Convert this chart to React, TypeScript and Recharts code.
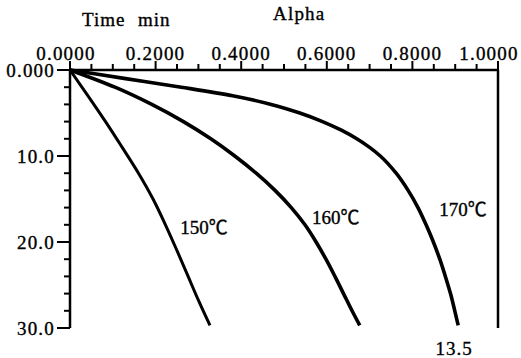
import React from 'react';
import { LineChart, Line, XAxis, YAxis, ReferenceLine, ReferenceDot } from 'recharts';

// Tick values
const alphaTicks = [0, 0.05, 0.1, 0.15, 0.2, 0.25, 0.3, 0.35, 0.4, 0.45, 0.5, 0.55, 0.6, 0.65, 0.7, 0.75, 0.8, 0.85, 0.9, 0.95, 1.0];
const alphaLabelTicks = [0, 0.2, 0.4, 0.6, 0.8, 1.0];
const timeTicks = [0, 2, 4, 6, 8, 10, 12, 14, 16, 18, 20, 22, 24, 26, 28, 30];
const timeLabelTicks = [0, 10, 20, 30];
const timeTickLabels = ['0.000', '10.0', '20.0', '30.0'];

// Series: time (min) and conversion alpha
const time150 = [0, 3, 6, 9, 12, 15, 18, 21, 24, 27, 29.7];
const alpha150 = [0, 0.042, 0.083, 0.122, 0.16, 0.194, 0.223, 0.25, 0.276, 0.302, 0.327];

const time160 = [0, 2, 4, 6, 8, 10, 12, 14, 16, 18, 20, 22, 24, 26, 28, 29.7];
const alpha160 = [0, 0.105, 0.191, 0.265, 0.329, 0.385, 0.435, 0.479, 0.517, 0.549, 0.575, 0.598, 0.619, 0.639, 0.659, 0.677];

const time170 = [0, 1, 2, 3, 4, 5, 6, 7, 8, 9, 10, 12, 14, 16, 18, 20, 22, 24, 26, 28, 29.7];
const alpha170 = [0, 0.13, 0.26, 0.38, 0.47, 0.537, 0.59, 0.634, 0.67, 0.7, 0.725, 0.762, 0.79, 0.813, 0.832, 0.849, 0.864, 0.877, 0.889, 0.899, 0.907];

const seriesLabels = ['150℃', '160℃', '170℃'];
const labelAlpha = [0.313, 0.621, 0.918];
const labelTime = [18.3, 17.15, 16.2];
const endNote = '13.5';
const xTitle = 'Alpha';
const yTitleA = 'Time';
const yTitleB = 'min';

const toRows = (ts: number[], as: number[]) => ts.map((t, i) => ({ t, a: as[i] }));
const data150 = toRows(time150, alpha150);
const data160 = toRows(time160, alpha160);
const data170 = toRows(time170, alpha170);

const FONT = "'Liberation Serif', 'Times New Roman', 'Noto Sans CJK SC', serif";
const TEXT_STROKE = 0.35;

const isAlphaLabel = (v: number) => alphaLabelTicks.some((l) => Math.abs(l - v) < 1e-6);

const XTick = (props: any) => {
  const { x, y, payload } = props;
  const v = payload.value as number;
  const major = isAlphaLabel(v);
  let dx = 0;
  if (Math.abs(v) < 1e-6) dx = -4;
  if (Math.abs(v - 1) < 1e-6) dx = -9;
  return (
    <g>
      <line x1={x} y1={y} x2={x} y2={y - (major ? 9 : 6)} stroke="#000" strokeWidth={2} />
      {major && (
        <text x={x + dx} y={y - 10} textAnchor="middle" fontFamily={FONT} fontSize={19} letterSpacing={1.2} fill="#000" stroke="#000" strokeWidth={TEXT_STROKE}>
          {v.toFixed(4)}
        </text>
      )}
    </g>
  );
};

const YTick = (props: any) => {
  const { x, y, payload } = props;
  const v = payload.value as number;
  const idx = timeLabelTicks.indexOf(v);
  const major = idx >= 0;
  return (
    <g>
      <line x1={x} y1={y} x2={x - (major ? 13 : 6)} y2={y} stroke="#000" strokeWidth={2} />
      {major && (
        <text x={x - 15} y={y + 7} textAnchor="end" fontFamily={FONT} fontSize={19} letterSpacing={1.2} fill="#000" stroke="#000" strokeWidth={TEXT_STROKE}>
          {timeTickLabels[idx]}
        </text>
      )}
    </g>
  );
};

const labelStyle = { fill: '#000', fontSize: 19, fontFamily: FONT, stroke: '#000', strokeWidth: TEXT_STROKE };

export default function App() {
  return (
    <div style={{ position: 'absolute', left: 0, top: 0, width: 521, height: 358, background: '#fff' }}>
      <LineChart
        width={521}
        height={358}
        layout="vertical"
        margin={{ top: 40, right: 23, bottom: 30, left: 10 }}
      >
        <XAxis
          type="number"
          dataKey="a"
          orientation="top"
          domain={[0, 1]}
          ticks={alphaTicks}
          interval={0}
          height={30}
          tickSize={0}
          tickMargin={0}
          tickLine={false}
          axisLine={{ stroke: '#000', strokeWidth: 2.5 }}
          tick={<XTick />}
        />
        <YAxis
          type="number"
          dataKey="t"
          domain={[0, 30]}
          ticks={timeTicks}
          interval={0}
          width={60}
          tickSize={0}
          tickMargin={0}
          tickLine={false}
          axisLine={{ stroke: '#000', strokeWidth: 2.5 }}
          tick={<YTick />}
        />
        <ReferenceLine x={1} stroke="#000" strokeWidth={2.5} />
        <Line data={data150} dataKey="a" type="monotone" stroke="#000" strokeWidth={3} dot={false} isAnimationActive={false} />
        <Line data={data160} dataKey="a" type="monotone" stroke="#000" strokeWidth={3.6} dot={false} isAnimationActive={false} />
        <Line data={data170} dataKey="a" type="monotone" stroke="#000" strokeWidth={3.6} dot={false} isAnimationActive={false} />
        {seriesLabels.map((s, i) => (
          <ReferenceDot
            key={s}
            x={labelAlpha[i]}
            y={labelTime[i]}
            r={1}
            fill="none"
            stroke="none"
            label={{ value: s, position: 'center', ...labelStyle }}
          />
        ))}
      </LineChart>
      <svg width={521} height={358} style={{ position: 'absolute', left: 0, top: 0, pointerEvents: 'none' }}>
        <text x={82} y={26} fontFamily={FONT} fontSize={19} letterSpacing={1} fill="#000" stroke="#000" strokeWidth={TEXT_STROKE}>{yTitleA}</text>
        <text x={138} y={26} fontFamily={FONT} fontSize={19} letterSpacing={1} fill="#000" stroke="#000" strokeWidth={TEXT_STROKE}>{yTitleB}</text>
        <text x={273} y={20} fontFamily={FONT} fontSize={19} letterSpacing={1.2} fill="#000" stroke="#000" strokeWidth={TEXT_STROKE}>{xTitle}</text>
        <text x={454} y={355} textAnchor="middle" fontFamily={FONT} fontSize={19} letterSpacing={1} fill="#000" stroke="#000" strokeWidth={TEXT_STROKE}>{endNote}</text>
      </svg>
    </div>
  );
}
